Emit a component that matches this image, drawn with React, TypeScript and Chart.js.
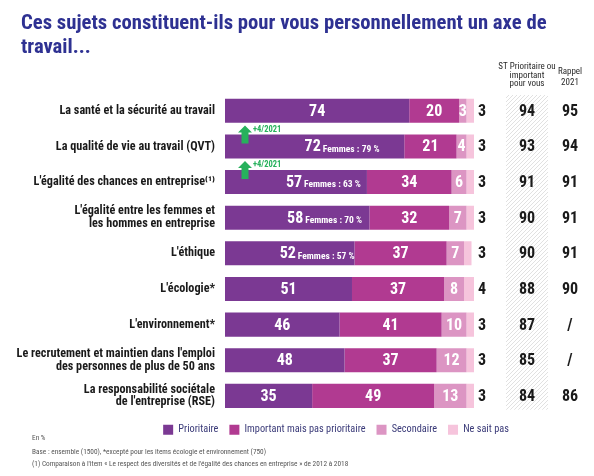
import React, { useEffect, useRef } from "react";
import { Chart, registerables } from "chart.js";

Chart.register(...registerables);

const FONT = "'Liberation Sans Narrow', 'Roboto Condensed', 'DejaVu Sans Condensed', sans-serif";

const titleLines = [
  "Ces sujets constituent-ils pour vous personnellement un axe de",
  "travail...",
];

const categories = [
  "La santé et la sécurité au travail",
  "La qualité de vie au travail (QVT)",
  "L'égalité des chances en entreprise⁽¹⁾",
  ["L'égalité entre les femmes et", "les hommes en entreprise"],
  "L'éthique",
  "L'écologie*",
  "L'environnement*",
  ["Le recrutement et maintien dans l'emploi", "des personnes de plus de 50 ans"],
  ["La responsabilité sociétale", "de l'entreprise (RSE)"],
];

const seriesNames = ["Prioritaire", "Important mais pas prioritaire", "Secondaire", "Ne sait pas"];
const seriesColors = ["#7b3993", "#b13a91", "#dc95c3", "#f6c4dc"];

const prioritaire = [74, 72, 57, 58, 52, 51, 46, 48, 35];
const important = [20, 21, 34, 32, 37, 37, 41, 37, 49];
const secondaire = [3, 4, 6, 7, 7, 8, 10, 12, 13];
const neSaitPas = [3, 3, 3, 3, 3, 4, 3, 3, 3];

const stPrioritaireOuImportant = [94, 93, 91, 90, 90, 88, 87, 85, 84];
const rappel2021 = ["95", "94", "91", "91", "91", "90", "/", "/", "86"];

const femmesLabels = [null, "Femmes : 79 %", "Femmes : 63 %", "Femmes : 70 %", "Femmes : 57 %", null, null, null, null];
const evolution = [null, "+4/2021", "+4/2021", null, null, null, null, null, null];

const stHeader = ["ST Prioritaire ou", "important", "pour vous"];
const rappelHeader = ["Rappel", "2021"];

const footnotes = [
  "En %",
  "Base : ensemble (1500), *excepté pour les items écologie et environnement (750)",
  "(1) Comparaison à l'item « Le respect des diversités et de l'égalité des chances en entreprise » de 2012 à 2018",
];

const seriesValues = [prioritaire, important, secondaire, neSaitPas];

function makeHatch(ctx: CanvasRenderingContext2D) {
  const c = document.createElement("canvas");
  c.width = 4;
  c.height = 4;
  const g = c.getContext("2d")!;
  g.fillStyle = "#ffffff";
  g.fillRect(0, 0, 4, 4);
  g.strokeStyle = "#d4d4d4";
  g.lineWidth = 0.7;
  g.beginPath();
  g.moveTo(0, 4);
  g.lineTo(4, 0);
  g.moveTo(-1, 1);
  g.lineTo(1, -1);
  g.moveTo(3, 5);
  g.lineTo(5, 3);
  g.stroke();
  return ctx.createPattern(c, "repeat");
}

const decorPlugin = {
  id: "decor",
  beforeDatasetsDraw(chart: any) {
    const { ctx, chartArea } = chart;
    ctx.save();
    const pat = makeHatch(ctx);
    if (pat) ctx.fillStyle = pat;
    ctx.fillRect(chartArea.right + 32, chartArea.top + 2, 42, chartArea.bottom - chartArea.top - 6);
    ctx.restore();
  },
  afterDatasetsDraw(chart: any) {
    const { ctx, chartArea } = chart;
    const yScale = chart.scales.y;
    ctx.save();
    ctx.textBaseline = "middle";
    for (let d = 0; d < 3; d++) {
      const meta = chart.getDatasetMeta(d);
      meta.data.forEach((el: any, i: number) => {
        const { x, base, y } = el.getProps(["x", "base", "y"], true);
        let cx = (x + base) / 2;
        const txt = String(seriesValues[d][i]);
        ctx.font = `bold 16px ${FONT}`;
        ctx.fillStyle = "#ffffff";
        ctx.textAlign = "center";
        if (d === 0 && femmesLabels[i]) cx -= 2;
        ctx.fillText(txt, cx, y + 1);
        if (d === 0 && femmesLabels[i]) {
          const w = ctx.measureText(txt).width;
          ctx.font = `bold 9.5px ${FONT}`;
          ctx.textAlign = "left";
          ctx.fillText(femmesLabels[i] as string, cx + w / 2 + 2, y + 3);
        }
      });
    }
    categories.forEach((_, i) => {
      const y = yScale.getPixelForValue(i);
      ctx.font = `bold 16px ${FONT}`;
      ctx.fillStyle = "#1a1a1a";
      ctx.textAlign = "left";
      ctx.fillText(String(neSaitPas[i]), chartArea.right + 4, y + 1);
      ctx.textAlign = "center";
      ctx.fillText(String(stPrioritaireOuImportant[i]), chartArea.right + 53, y + 1);
      ctx.fillText(rappel2021[i], chartArea.right + 96, y + 1);
    });
    const meta0 = chart.getDatasetMeta(0);
    meta0.data.forEach((el: any, i: number) => {
      if (!evolution[i]) return;
      const { base, y, height } = el.getProps(["base", "y", "height"], true);
      const top = y - height / 2;
      const cx = base + 20;
      ctx.fillStyle = "#27b15c";
      ctx.beginPath();
      ctx.moveTo(cx, top - 9);
      ctx.lineTo(cx + 7, top - 2);
      ctx.lineTo(cx + 3.5, top - 2);
      ctx.lineTo(cx + 3.5, top + 9);
      ctx.lineTo(cx - 3.5, top + 9);
      ctx.lineTo(cx - 3.5, top - 2);
      ctx.lineTo(cx - 7, top - 2);
      ctx.closePath();
      ctx.fill();
      ctx.font = `bold 8.5px ${FONT}`;
      ctx.textAlign = "left";
      ctx.fillText(evolution[i] as string, cx + 8, top - 5);
    });
    ctx.restore();
  },
  afterDraw(chart: any) {
    const { ctx, chartArea } = chart;
    ctx.save();
    ctx.textBaseline = "alphabetic";
    ctx.textAlign = "left";
    ctx.fillStyle = "#2e3192";
    ctx.font = `bold 20.7px ${FONT}`;
    ctx.fillText(titleLines[0], 21, 29);
    ctx.fillText(titleLines[1], 21, 53);
    ctx.fillStyle = "#2a2a2a";
    ctx.textAlign = "center";
    ctx.textBaseline = "middle";
    ctx.font = `9px ${FONT}`;
    stHeader.forEach((t, k) => ctx.fillText(t, chartArea.right + 53, 67 + k * 8.3));
    rappelHeader.forEach((t, k) => ctx.fillText(t, chartArea.right + 96, 71.5 + k * 11));
    ctx.textAlign = "left";
    ctx.fillStyle = "#555555";
    ctx.font = `7.3px ${FONT}`;
    ctx.fillText(footnotes[0], 32, 438);
    ctx.fillText(footnotes[1], 32, 452);
    ctx.fillText(footnotes[2], 32, 464);
    ctx.restore();
  },
};

export default function App() {
  const ref = useRef<HTMLCanvasElement>(null);
  useEffect(() => {
    const chart = new Chart(ref.current!, {
      type: "bar",
      data: {
        labels: categories as any,
        datasets: seriesNames.map((name, k) => ({
          label: name,
          data: seriesValues[k],
          backgroundColor: seriesColors[k],
          borderWidth: 0,
          yAxisID: "y",
          xAxisID: "x",
          categoryPercentage: 1,
          barPercentage: 0.674,
        })),
      },
      options: {
        indexAxis: "y",
        animation: false,
        responsive: false,
        layout: { padding: { left: 0, right: -78, top: 93, bottom: 31 } },
        scales: {
          x: {
            stacked: true,
            min: 0,
            max: 100,
            display: false,
            afterFit: (s: any) => { s.height = 0; },
          },
          y: {
            stacked: true,
            position: "left",
            grid: { display: false, drawTicks: false },
            border: { display: false },
            ticks: {
              padding: 10,
              color: "#1a1a1a",
              font: { family: FONT, size: 12.2, weight: "bold", lineHeight: 1.05 },
            },
            afterFit: (s: any) => { s.width = 225; },
          },
          yRight: {
            type: "linear",
            position: "right",
            display: false,
            afterFit: (s: any) => { s.width = 198; },
          },
        },
        plugins: {
          tooltip: { enabled: false },
          legend: {
            position: "bottom",
            labels: {
              boxWidth: 10,
              boxHeight: 10,
              padding: 11,
              color: "#3a3a78",
              font: { family: FONT, size: 10.3 },
            },
          },
        },
      } as any,
      plugins: [decorPlugin],
    });
    return () => chart.destroy();
  }, []);
  return (
    <div style={{ position: "absolute", left: 0, top: 0, width: 594, height: 476, background: "#ffffff" }}>
      <canvas ref={ref} width={594} height={476} style={{ display: "block", width: 594, height: 476 }} />
    </div>
  );
}
